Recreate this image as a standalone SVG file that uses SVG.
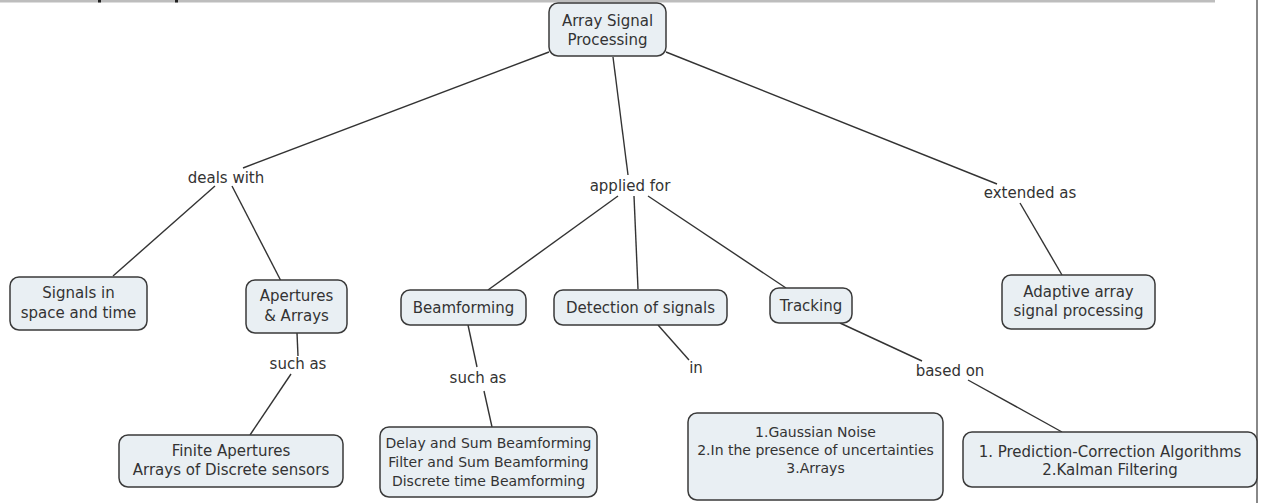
<svg xmlns="http://www.w3.org/2000/svg" width="1261" height="503" viewBox="0 0 1261 503">
  <style>
    .box { fill: #e9eff3; stroke: #3a3a3a; stroke-width: 1.5; }
    .t { font-family: "DejaVu Sans", Verdana, sans-serif; font-size: 15px; fill: #333; text-anchor: middle; }
    .s { font-size: 14px; }
    .link { stroke: #333; stroke-width: 1.4; fill: none; }
  </style>
  <rect width="1261" height="503" fill="#ffffff"/>
  <!-- page frame remnants -->
  <rect x="0" y="0" width="1215" height="2.5" fill="#bdbdbd"/>
  <rect x="98" y="0" width="3" height="2.5" fill="#222"/>
  <rect x="175" y="0" width="3" height="2.5" fill="#222"/>
  <rect x="1256" y="0" width="2" height="503" fill="#888"/>

  <g id="connectors">
    <line class="link" x1="549" y1="52" x2="243" y2="168"/>
    <line class="link" x1="215" y1="186" x2="113" y2="276"/>
    <line class="link" x1="232" y1="186" x2="281" y2="281"/>
    <line class="link" x1="613" y1="57" x2="628" y2="175"/>
    <line class="link" x1="618" y1="196" x2="488" y2="290"/>
    <line class="link" x1="634" y1="196" x2="638" y2="289"/>
    <line class="link" x1="648" y1="196" x2="786" y2="288"/>
    <line class="link" x1="666" y1="52" x2="997" y2="184"/>
    <line class="link" x1="1020" y1="203" x2="1062" y2="275"/>
    <line class="link" x1="297" y1="333" x2="298" y2="356"/>
    <line class="link" x1="291" y1="374" x2="250" y2="435"/>
    <line class="link" x1="468" y1="325" x2="477" y2="367"/>
    <line class="link" x1="484" y1="391" x2="492" y2="427"/>
    <line class="link" x1="658" y1="325" x2="689" y2="360"/>
    <line class="link" x1="840" y1="323" x2="922" y2="361"/>
    <line class="link" x1="968" y1="380" x2="1062" y2="432"/>
  </g>

  <g id="labels">
    <text class="t" x="226" y="183">deals with</text>
    <text class="t" x="630" y="191">applied for</text>
    <text class="t" x="1030" y="198">extended as</text>
    <text class="t" x="298" y="369">such as</text>
    <text class="t" x="478" y="383">such as</text>
    <text class="t" x="696" y="373">in</text>
    <text class="t" x="950" y="376">based on</text>
  </g>

  <g id="root">
    <rect class="box" x="549" y="3" width="117" height="53" rx="9"/>
    <text class="t" x="607.5" y="26">Array Signal</text>
    <text class="t" x="607.5" y="45">Processing</text>
  </g>
  <g id="signals">
    <rect class="box" x="10" y="277" width="137" height="53" rx="9"/>
    <text class="t" x="78.5" y="298">Signals in</text>
    <text class="t" x="78.5" y="318">space and time</text>
  </g>
  <g id="apertures">
    <rect class="box" x="246" y="280" width="101" height="53" rx="9"/>
    <text class="t" x="296.5" y="301">Apertures</text>
    <text class="t" x="296.5" y="321">&amp; Arrays</text>
  </g>
  <g id="beamforming">
    <rect class="box" x="401" y="290" width="125" height="35" rx="9"/>
    <text class="t" x="463.5" y="313">Beamforming</text>
  </g>
  <g id="detection">
    <rect class="box" x="554" y="290" width="173" height="35" rx="9"/>
    <text class="t" x="640.5" y="313">Detection of signals</text>
  </g>
  <g id="tracking">
    <rect class="box" x="770" y="288" width="82" height="35" rx="9"/>
    <text class="t" x="811" y="311">Tracking</text>
  </g>
  <g id="adaptive">
    <rect class="box" x="1002" y="275" width="153" height="54" rx="9"/>
    <text class="t" x="1078.5" y="297">Adaptive array</text>
    <text class="t" x="1078.5" y="316">signal processing</text>
  </g>
  <g id="finite">
    <rect class="box" x="119" y="435" width="224" height="52" rx="9"/>
    <text class="t" x="231" y="456">Finite Apertures</text>
    <text class="t" x="231" y="475">Arrays of Discrete sensors</text>
  </g>
  <g id="delay">
    <rect class="box" x="380" y="427" width="217" height="70" rx="9"/>
    <text class="t s" x="488.5" y="448">Delay and Sum Beamforming</text>
    <text class="t s" x="488.5" y="467">Filter and Sum Beamforming</text>
    <text class="t s" x="488.5" y="486">Discrete time Beamforming</text>
  </g>
  <g id="gaussian">
    <rect class="box" x="688" y="413" width="255" height="87" rx="9"/>
    <text class="t s" x="815.5" y="437">1.Gaussian Noise</text>
    <text class="t s" x="815.5" y="455">2.In the presence of uncertainties</text>
    <text class="t s" x="815.5" y="473">3.Arrays</text>
  </g>
  <g id="prediction">
    <rect class="box" x="963" y="432" width="294" height="55" rx="9"/>
    <text class="t" x="1110" y="457">1. Prediction-Correction Algorithms</text>
    <text class="t" x="1110" y="475">2.Kalman Filtering</text>
  </g>
</svg>
